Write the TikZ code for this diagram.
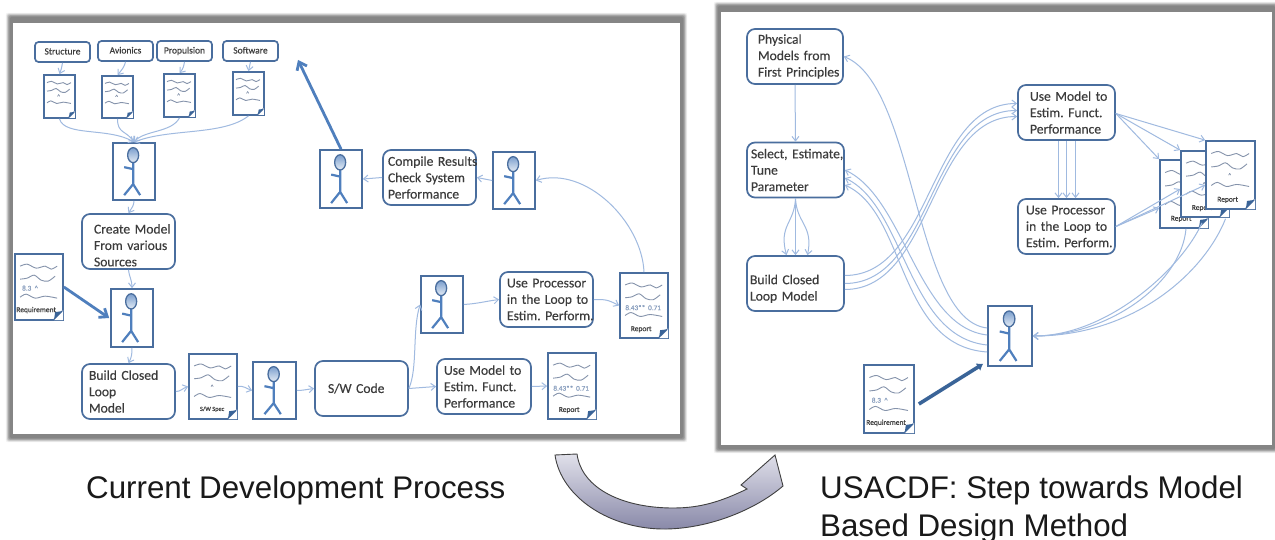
\documentclass[tikz,border=0pt]{standalone}
\usepackage{fontspec}
\setmainfont[FakeBold=0.25]{Carlito}
\newfontfamily\capfont{Liberation Sans}
\usetikzlibrary{arrows.meta,calc}
\definecolor{boxblue}{HTML}{4A6E9E}
\definecolor{stickblue}{HTML}{4F7FBD}
\definecolor{darkblue}{HTML}{3A6498}
\definecolor{linkblue}{HTML}{A0BAE0}
\definecolor{txtgray}{HTML}{3C3C3C}
\definecolor{squig}{HTML}{8593AB}
\definecolor{arrowtop}{HTML}{E0E0EA}
\definecolor{arrowbot}{HTML}{8888A8}
\frenchspacing
\tikzset{
  tbox/.style n args={2}{draw=boxblue,line width=1.7pt,rounded corners=8pt,fill=white,
    font=\fontsize{13.6}{16.4}\selectfont,text=txtgray,align=left,inner xsep=0pt,inner ysep=0pt,
    minimum height=55pt,minimum width=#1 pt,text width=#1 pt-#2 pt},
  sbox/.style={draw=boxblue,line width=1.7pt,rounded corners=3.5pt,fill=white,
    font=\fontsize{9.5}{11}\selectfont,text=txtgray,inner sep=0pt,minimum width=55pt,minimum height=20pt,
    text height=7pt,text depth=2pt},
  framed/.style={draw=boxblue,line width=1.7pt,fill=white,inner sep=0pt},
  linkline/.style={draw=linkblue,line width=1pt,-{Straight Barb[length=4.5pt,width=7pt]}},
  boldline/.style={draw=stickblue,line width=2.8pt,-{Straight Barb[length=7pt,width=11pt]}},
  squiggle/.style={draw=squig,line width=.9pt},
  tinytext/.style={inner sep=0pt,text=txtgray}
}
\newcommand\tl[1]{\mbox{#1}}
\newcommand\myperson[5]{%
  \node[framed,minimum width=#4pt,minimum height=#5pt] (#1) at (#2,#3) {};
  \begin{scope}[shift={(#1.north west)},xscale=#4/42,yscale=#5/57]
    \draw[stickblue,line width=2.2pt] (21,20)--(21,42) (12,25)--(21,27) (12,53)--(21,42)--(28,53);
    \shade[top color=stickblue!75,bottom color=stickblue!15,draw=boxblue,line width=1.3pt]
      (21,13) ellipse [x radius=5.5pt,y radius=7.5pt];
  \end{scope}}
\newcommand\mydoc[6]{%
  \node[framed,minimum width=#4pt,minimum height=#5pt] (#1) at (#2,#3) {};
  \begin{scope}[shift={(#1.north west)},xscale=#4/48,yscale=#5/66]
    \draw[squiggle] plot[smooth] coordinates {(6,13)(13,11)(22,15)(31,13)(37,16)(43,13)};
    \draw[squiggle] plot[smooth] coordinates {(6,26)(13,25)(20,22)(27,27)(34,28)(41,23)};
    \draw[squiggle] plot[smooth] coordinates {(6,44)(12,41)(21,45)(31,43)(43,45)};
    \fill[white] (40,67)--(49,57)--(49,67)--cycle;
    \draw[boxblue,line width=1.3pt] (40,66)--(48,58);
    \fill[darkblue] (40,66)--(48,58)--(41,59)--cycle;
    #6
  \end{scope}}
\newcommand\mymk{\node[text=squig,inner sep=0pt,font=\fontsize{6}{6}\selectfont] at (24,34) {\^{}};}
\newcommand\rptA{\node[text=linkblue!85!black,inner sep=0pt,font=\fontsize{7.2}{8}\selectfont] at (24,36) {8.43** \,0.71};
  \node[tinytext,font=\fontsize{7.5}{8}\selectfont] at (22,58) {Report};}
\newcommand\rptB{\mymk\node[tinytext,font=\fontsize{7.5}{8}\selectfont] at (22,58) {Report};}
\newcommand\rqmt{\node[text=linkblue!85!black,inner sep=0pt,font=\fontsize{7.2}{8}\selectfont] at (16,35) {8.3\ \ \^{}};
  \node[tinytext,font=\fontsize{7.5}{8}\selectfont] at (22,57) {Requirement};}
\newcommand\mypanel[4]{%
  \foreach \i/\c in {7/4,6/10,5/18,4/26,3/34,2/40,1/44,0/48}
    \fill[black!\c,rounded corners=2pt] (#1-0.6*\i-3,#2-0.6*\i-6) rectangle (#3+0.6*\i+3,#4+0.6*\i+4);
  \fill[white] (#1,#2) rectangle (#3,#4);}
\begin{document}
\begin{tikzpicture}[x=1pt,y=-1pt]
\useasboundingbox (0,0) rectangle (1275,540);
\fill[white] (0,0) rectangle (1275,540);
\mypanel{13}{23}{680}{434}
\mypanel{721}{12}{1272}{445}

% ---------- left panel ----------
\node[sbox] (st) at (62.5,52) {Structure};
\node[sbox] (av) at (125.5,51) {Avionics};
\node[sbox] (pr) at (184.5,51) {Propulsion};
\node[sbox] (so) at (250.5,51) {Software};
\mydoc{d1}{59.5}{96.5}{31}{43}{\mymk}
\mydoc{d2}{117.5}{97}{31}{42}{\mymk}
\mydoc{d3}{179.5}{95.5}{31}{43}{\mymk}
\mydoc{d4}{248.5}{93.5}{31}{43}{\mymk}
\myperson{p1}{134}{171.5}{42}{57}
\node[tbox={93}{24}] (cm) at (128.5,241.5) {\tl{\rule{0pt}{17pt}Create Model}\\\tl{From various}\\\tl{Sources}};
\mydoc{rq}{39}{287}{48}{66}{\rqmt}
\myperson{p2}{132}{318}{42}{58}
\node[tbox={93}{14}] (bl) at (128.5,391.5) {\tl{Build Closed}\\\tl{Loop}\\\tl{Model}};
\mydoc{sw}{213}{386.5}{48}{65}{\mymk\node[tinytext,font=\fontsize{6.3}{7}\selectfont] at (24,57) {S/W Spec};}
\myperson{p3}{274.5}{390.5}{43}{57}
\node[tbox={93}{26}] (co) at (361.5,388.5) {\tl{S/W Code}};
\node[tbox={94}{14}] (um) at (484,386.5) {\tl{Use Model to}\\\tl{Estim. Funct.}\\\tl{Performance}};
\mydoc{r1}{572}{386}{48}{66}{\rptA}
\myperson{p4}{442}{304.5}{42}{57}
\node[tbox={93}{14}] (up) at (546.5,299.5) {\tl{Use Processor}\\\tl{in the Loop to}\\\tl{Estim. Perform.}};
\mydoc{r2}{644}{305.5}{48}{65}{\rptA}
\myperson{p5}{514}{180.5}{42}{57}
\node[tbox={93}{10}] (cr) at (429.5,177.5) {\tl{Compile Results}\\\tl{Check System}\\\tl{Performance}};
\myperson{p6}{341}{179}{42}{58}
\coordinate (top) at (298,60);

\draw[linkline] (st.south) .. controls +(-1,5) and +(2,-5) .. (d1.north);
\draw[linkline] (av.south) .. controls +(-1,5) and +(4,-5) .. (d2.north);
\draw[linkline] (pr.south) .. controls +(-1,5) and +(4,-5) .. (d3.north);
\draw[linkline] (so.south) -- (d4.north);
\draw[linkline] (d1.south) .. controls +(5,18) and +(-25,-15) .. (p1.north);
\draw[linkline] (d2.south) .. controls +(0,15) and +(-8,-12) .. (p1.north);
\draw[linkline] (d3.south) .. controls +(-8,15) and +(10,-12) .. (p1.north);
\draw[linkline] (d4.south) .. controls +(-25,20) and +(35,-14) .. (p1.north);
\draw[linkline] (p1.south) .. controls +(0,5) and +(3,-5) .. (cm.north);
\draw[linkline] (cm.south) .. controls +(1,8) and +(0,-8) .. (p2.north);
\draw[boldline] (rq.east) -- ($(p2.west)+(-1,0)$);
\draw[linkline] (p2.south) .. controls +(0,7) and +(3,-6) .. (bl.north);
\draw[linkline] (bl.east) .. controls +(5,0) and +(-6,2) .. (sw.west);
\draw[linkline] (sw.east) .. controls +(6,-1) and +(-6,-2) .. (p3.west);
\draw[linkline] (p3.east) .. controls +(6,0) and +(-8,1) .. (co.west);
\draw[linkline] (co.east) -- (um.west);
\draw[linkline] (um.east) -- (r1.west);
\draw[linkline] (co.east) .. controls +(9,-20) and +(-8,25) .. (p4.west);
\draw[linkline] (p4.east) .. controls +(15,-1) and +(-15,2) .. (up.west);
\draw[linkline] (up.east) .. controls +(12,0) and +(-12,-6) .. (r2.west);
\draw[linkline] (r2.north) .. controls +(-2,-50) and +(50,-15) .. (p5.east);
\draw[linkline] (p5.west) -- (cr.east);
\draw[linkline] (cr.west) -- (p6.east);
\draw[boldline] (p6.north) -- (top);

% ---------- right panel ----------
\myperson{pr2}{1010}{336}{44}{60}
\node[tbox={96}{22}] (ph) at (795,56.5) {\tl{Physical}\\\tl{Models from}\\\tl{First Principles}};
\node[tbox={97}{8}] (se) at (795.5,170) {\tl{Select, Estimate,}\\\tl{Tune}\\\tl{Parameter}};
\node[tbox={97}{6}] (bu) at (795.5,283.5) {\tl{\rule{0pt}{20pt}Build Closed}\\\tl{Loop Model}};
\node[tbox={97}{24}] (uf) at (1066.5,112.5) {\tl{Use Model to}\\\tl{Estim. Funct.}\\\tl{Performance}};
\node[tbox={97}{16}] (ue) at (1066.5,226.5) {\tl{Use Processor}\\\tl{in the Loop to}\\\tl{Estim. Perform.}};
\mydoc{ra}{1184}{194}{48}{68}{\rptB}
\mydoc{rb}{1205}{184}{48}{66}{\rptB}
\mydoc{rc}{1230.5}{175}{49}{68}{\rptB}
\mydoc{rq2}{889}{399}{50}{68}{\rqmt}

\draw[linkline] ($(pr2.west)+(0,-8)$) .. controls +(-73,-8) and +(72,29) .. (ph.east);
\draw[linkline] (ph.south) -- (se.north);
\draw[linkline] (se.south) .. controls +(-1,25) and +(-8,-30) .. ($(bu.north)+(-9,0)$);
\draw[linkline] (se.south) -- (bu.north);
\draw[linkline] (se.south) .. controls +(1,25) and +(6,-30) .. ($(bu.north)+(12,0)$);
\draw[linkline] ($(bu.east)+(0,-8)$) .. controls +(88,0) and +(-88,0) .. ($(uf.west)+(0,-9)$);
\draw[linkline] (bu.east) .. controls +(88,0) and +(-88,0) .. ($(uf.west)+(0,-2)$);
\draw[linkline] ($(bu.east)+(0,6)$) .. controls +(88,0) and +(-88,0) .. ($(uf.west)+(0,4)$);
\draw[linkline] ($(uf.south)+(-8,0)$) -- ($(ue.north)+(-8,0)$);
\draw[linkline] (uf.south) -- (ue.north);
\draw[linkline] ($(uf.south)+(9,0)$) -- ($(ue.north)+(9,0)$);
\draw[linkline] ($(uf.east)+(0,1)$) -- (ra.north west);
\draw[linkline] ($(uf.east)+(0,1)$) -- (rb.north west);
\draw[linkline] ($(uf.east)+(0,1)$) -- (rc.north west);
\draw[linkline] (ue.east) -- ($(ra.west)+(0,14)$);
\draw[linkline] (ue.east) -- ($(rb.west)+(0,5)$);
\draw[linkline] (ue.east) -- ($(rc.west)+(0,10)$);
\draw[linkline] ($(ra.south)+(2,0)$) .. controls +(-5,55) and +(75,0) .. (pr2.east);
\draw[linkline] ($(rb.south)+(-3,5)$) .. controls +(-20,45) and +(75,0) .. (pr2.east);
\draw[linkline] ($(rc.south)+(-5,9)$) .. controls +(-22,55) and +(100,0) .. (pr2.east);
\draw[linkline] ($(pr2.west)+(0,-1)$) .. controls +(-70,-8) and +(60,28) .. (se.east);
\draw[linkline] ($(pr2.west)+(0,9)$) .. controls +(-80,-8) and +(60,28) .. ($(se.east)+(0,8)$);
\draw[linkline] ($(pr2.west)+(0,16)$) .. controls +(-90,-6) and +(62,28) .. ($(se.east)+(0,15)$);
\coordinate (rqa) at ($(pr2.south west)+(-4,-3)$);
\draw[draw=darkblue,line width=3.6pt,-{Latex[length=6pt,width=9pt]}] ($(rq2.east)+(4,5)$) -- (rqa);

% ---------- captions ----------
\node[anchor=base west,inner sep=0pt,font=\capfont\fontsize{31.3}{38}\selectfont,text=black!90] (c1) at (86,498) {Current Development Process};
\node[anchor=base west,inner sep=0pt,font=\capfont\fontsize{31.3}{38}\selectfont,text=black!90] (c2) at (820,498) {USACDF: Step towards Model};
\node[anchor=base west,inner sep=0pt,font=\capfont\fontsize{31.3}{38}\selectfont,text=black!90] (c3) at (820,536) {Based Design Method};

% ---------- curved block arrow ----------
\shade[top color=arrowtop,bottom color=arrowbot,draw=black!75,line width=.9pt]
 (555,455) .. controls (561,497) and (610,530) .. (667,529)
 .. controls (710,528) and (755,510) .. (783,486) -- (775,455) -- (741,485) -- (747,489)
 .. controls (720,502) and (700,508) .. (673,508)
 .. controls (625,508) and (582,490) .. (577,454) -- cycle;
\end{tikzpicture}
\end{document}
